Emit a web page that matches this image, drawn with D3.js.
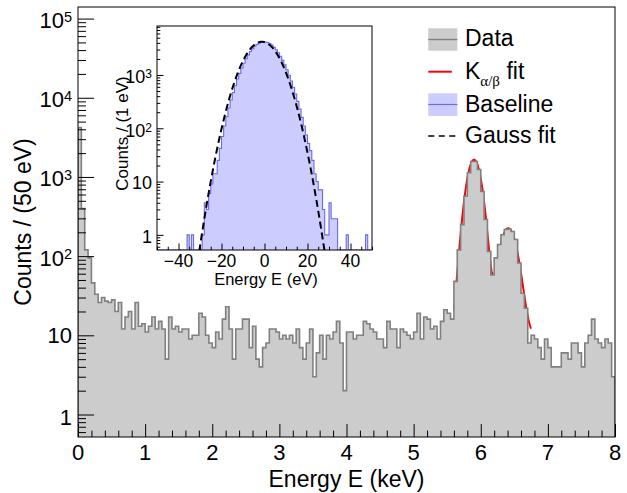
<!doctype html>
<html lang="en">
<head>
<meta charset="utf-8">
<title>Energy spectrum</title>
<script src="https://d3js.org/d3.v7.min.js"></script>
<style>
  body { margin: 0; background: #fff; }
  svg text { font-family: "Liberation Sans", Arial, Helvetica, sans-serif; fill: #000; }
</style>
</head>
<body>
<svg width="627" height="493"></svg>
<script>
// main spectrum: 50 eV bins from 0 to 8 keV
var binWidth = 0.05;
var dataCounts = [
  4200, 400, 120, 95, 46, 33, 26, 30, 27, 26,
  28, 20, 26, 12, 17, 20, 12, 26, 13, 14,
  11, 13, 17, 12, 15, 12, 5, 17, 12, 13,
  11, 12, 12, 9, 10, 10, 19, 17, 10, 8,
  7, 11, 9, 16, 23, 12, 5, 12, 12, 16,
  16, 7, 13, 5, 4, 7, 8, 12, 12, 11,
  9, 10, 9, 10, 8, 12, 7, 5, 8, 12,
  3, 6, 10, 5, 10, 9, 11, 15, 8, 2,
  11, 11, 9, 10, 10, 15, 14, 12, 11, 9,
  9, 7, 15, 12, 12, 7, 12, 11, 10, 9,
  11, 19, 9, 17, 16, 12, 13, 9, 15, 21,
  19, 16, 48, 120, 250, 570, 1130, 1570, 1570, 1240,
  655, 290, 115, 58, 95, 140, 186, 217, 220, 205,
  162, 82, 34, 22, 8, 10, 9, 7, 5, 9,
  7, 4, 4, 4, 6, 6, 5, 8, 8, 6,
  4, 8, 10, 16, 9, 8, 7, 9, 8, 3
];

// K alpha/beta fit: [amplitude, mean (keV), sigma (keV)] on a flat background
var kFitBackground = 10;
var kAlpha = [1640, 5.90, 0.095];
var kBeta = [215, 6.41, 0.112];
var kFitRange = [5.6, 6.75];

// baseline (inset): 1 eV bins from -50 to 50 eV
var baseBinStart = -50;
var baseBinWidth = 1;
var baseCounts = [
  0, 0, 0, 0, 0, 0, 0, 0, 0, 0,
  0, 0, 0, 0, 1, 0, 1, 0, 0, 0,
  0, 1, 4, 3, 6, 9, 14, 14, 25, 42,
  70, 110, 165, 240, 340, 470, 630, 840, 1070, 1350,
  1660, 2010, 2380, 2750, 3110, 3450, 3740, 3960, 4120, 4190,
  4170, 4080, 3880, 3630, 3320, 2970, 2610, 2240, 1880, 1550,
  1250, 990, 770, 590, 440, 320, 230, 160, 110, 75,
  52, 38, 25, 14, 10, 7, 7, 3, 1, 1,
  4, 2, 2, 2, 0, 0, 0, 0, 1, 0,
  0, 0, 0, 0, 0, 0, 0, 1, 0, 0
];
// gauss fit: [amplitude, mean (eV), sigma (eV)]
var gaussFit = [4200, -1.2, 6.85];

var xTicks = [0, 1, 2, 3, 4, 5, 6, 7, 8];
var yTicks = [1, 10, 100, 1e3, 1e4, 1e5];
var yTickLabels = [["1", ""], ["10", ""], ["10", "2"], ["10", "3"], ["10", "4"], ["10", "5"]];
var insetXTicks = [-40, -20, 0, 20, 40];
var insetXTickLabels = ["\u221240", "\u221220", "0", "20", "40"];
var insetYTicks = [1, 10, 100, 1000];
var insetYTickLabels = [["1", ""], ["10", ""], ["10", "2"], ["10", "3"]];

var legendLabels = ["Data", "K", "Baseline", "Gauss fit"];

var grayFill = '#cccccc', grayLine = '#808080';
var blueFill = '#ccccff', blueLine = '#6b6be6';

var svg = d3.select('svg');
svg.append('rect').attr('width', 627).attr('height', 493).attr('fill', '#fff');

// ---------- main frame ----------
var fx0 = 78, fx1 = 615, fy0 = 7, fy1 = 437;
var x = d3.scaleLinear().domain([0, 8]).range([fx0, fx1]);
var y = d3.scaleLog().domain([0.52, 1.4e5]).range([fy1, fy0]);

var defs = svg.append('defs');
defs.append('clipPath').attr('id', 'clipMain')
  .append('rect').attr('x', fx0).attr('y', fy0).attr('width', fx1 - fx0).attr('height', fy1 - fy0);

function stepPoints(counts, start, width, ymin) {
  var pts = [[start, ymin]];
  counts.forEach(function(c, i){
    var v = c > ymin ? c : ymin;
    pts.push([start + i * width, v]);
    pts.push([start + (i + 1) * width, v]);
  });
  pts.push([start + counts.length * width, ymin]);
  return pts;
}

function gaussSum(e, pars) {
  return pars.reduce(function(s, p){
    return s + p[0] * Math.exp(-Math.pow(e - p[1], 2) / (2 * p[2] * p[2]));
  }, 0);
}

var mainG = svg.append('g').attr('clip-path', 'url(#clipMain)');

// fit first: the histogram is painted over it, as in the original
var fitE = d3.range(kFitRange[0], kFitRange[1] + 1e-9, 0.005);
mainG.append('path')
  .attr('d', d3.line()
    .x(function(e){ return x(e); })
    .y(function(e){ return y(kFitBackground + gaussSum(e, [kAlpha, kBeta])); })(fitE))
  .attr('fill', 'none').attr('stroke', '#ff0000').attr('stroke-width', 2);

var mainPts = stepPoints(dataCounts, 0, binWidth, y.domain()[0]);
var histLine = function(sx, sy){
  return d3.line().x(function(p){ return sx(p[0]); }).y(function(p){ return sy(p[1]); });
};
mainG.append('path')
  .attr('d', histLine(x, y)(mainPts) + 'Z')
  .attr('fill', grayFill).attr('stroke', 'none');
mainG.append('path')
  .attr('d', histLine(x, y)(mainPts))
  .attr('fill', 'none').attr('stroke', grayLine).attr('stroke-width', 1.6);

// axis ticks (ROOT style: inward, no domain line)
function tickAxis(axis, transform, values, size) {
  svg.append('g').attr('transform', transform)
    .call(axis.tickValues(values).tickSize(-size).tickFormat(''))
    .call(function(g){ g.select('.domain').remove(); })
    .selectAll('line').attr('stroke', '#000');
}

var xMinor = d3.range(0, 8.0001, 0.2).filter(function(v){ return Math.abs(v - Math.round(v)) > 1e-6; });
tickAxis(d3.axisBottom(x), 'translate(0,' + fy1 + ')', xTicks, 12.9);
tickAxis(d3.axisBottom(x), 'translate(0,' + fy1 + ')', xMinor, 6.4);

var yAll = y.ticks();
var yMinor = yAll.filter(function(v){ return yTicks.indexOf(v) < 0; });
tickAxis(d3.axisLeft(y), 'translate(' + fx0 + ',0)', yTicks, 16.1);
tickAxis(d3.axisLeft(y), 'translate(' + fx0 + ',0)', yMinor, 8);

svg.append('rect').attr('x', fx0).attr('y', fy0).attr('width', fx1 - fx0).attr('height', fy1 - fy0)
  .attr('fill', 'none').attr('stroke', '#000').attr('stroke-width', 1);

// tick labels
svg.append('g').selectAll('text').data(xTicks).join('text')
  .attr('x', function(d){ return x(d); }).attr('y', 460)
  .attr('text-anchor', 'middle').style('font-size', '22px')
  .text(function(d){ return d; });

function logLabels(scale, values, labels, xr, fs, sfs, baseOff, oneOff, supDy) {
  var t = svg.append('g').selectAll('text').data(values).join('text')
    .attr('x', xr)
    .attr('y', function(d, i){
      var off = labels[i][1] ? baseOff : (labels[i][0] === '1' ? oneOff : baseOff - 1.5);
      return scale(d) + off;
    })
    .attr('text-anchor', 'end').style('font-size', fs + 'px');
  t.append('tspan').text(function(d, i){ return labels[i][0]; });
  t.append('tspan').attr('dy', function(d, i){ return labels[i][1] ? supDy : 0; })
    .style('font-size', sfs + 'px')
    .text(function(d, i){ return labels[i][1]; });
}
logLabels(y, yTicks, yTickLabels, 72, 22, 14.5, 9.5, 10.5, -6.5);

svg.append('text').attr('x', (fx0 + fx1) / 2).attr('y', 487)
  .attr('text-anchor', 'middle').style('font-size', '23px').text('Energy E (keV)');
svg.append('text').attr('transform', 'translate(30.5,' + (fy0 + fy1) / 2 + ') rotate(-90)')
  .attr('text-anchor', 'middle').style('font-size', '23px').text('Counts / (50 eV)');

// ---------- legend ----------
var legX = 428.3, legW = 29, legTx = 465;
var leg = svg.append('g');
leg.append('rect').attr('x', legX).attr('y', 28.3).attr('width', legW).attr('height', 22.4).attr('fill', grayFill);
leg.append('line').attr('x1', legX).attr('x2', legX + legW).attr('y1', 39.5).attr('y2', 39.5)
  .attr('stroke', grayLine).attr('stroke-width', 1.4);
leg.append('line').attr('x1', legX).attr('x2', legX + 23.5).attr('y1', 71.7).attr('y2', 71.7)
  .attr('stroke', '#ff0000').attr('stroke-width', 2);
leg.append('rect').attr('x', legX).attr('y', 93.3).attr('width', legW).attr('height', 22.7).attr('fill', blueFill);
leg.append('line').attr('x1', legX).attr('x2', legX + legW).attr('y1', 104.5).attr('y2', 104.5)
  .attr('stroke', blueLine).attr('stroke-width', 1.2);
leg.append('line').attr('x1', legX).attr('x2', legX + legW).attr('y1', 136).attr('y2', 136)
  .attr('stroke', '#000').attr('stroke-width', 1.6).attr('stroke-dasharray', '6,4.5');

leg.append('text').attr('x', legTx).attr('y', 46).style('font-size', '23px').text(legendLabels[0]);
var kt = leg.append('text').attr('x', legTx).attr('y', 79.3).style('font-size', '23px')
  .style('white-space', 'pre');
kt.append('tspan').text(legendLabels[1]);
kt.append('tspan').attr('dy', 6.5).style('font-size', '15px')
  .style('font-family', '"Liberation Serif", "DejaVu Serif", serif').text('\u03b1/\u03b2');
kt.append('tspan').attr('dy', -6.5).text(' fit');
leg.append('text').attr('x', legTx).attr('y', 111.7).style('font-size', '23px').text(legendLabels[2]);
leg.append('text').attr('x', legTx).attr('y', 142.7).style('font-size', '23px').text(legendLabels[3]);

// ---------- inset ----------
var ix0 = 157, ix1 = 372, iy0 = 26, iy1 = 250;
var xi = d3.scaleLinear().domain([-50, 50]).range([ix0, ix1]);
var yi = d3.scaleLog().domain([0.52, 8300]).range([iy1, iy0]);

defs.append('clipPath').attr('id', 'clipInset')
  .append('rect').attr('x', ix0).attr('y', iy0).attr('width', ix1 - ix0).attr('height', iy1 - iy0);

svg.append('rect').attr('x', ix0).attr('y', iy0).attr('width', ix1 - ix0).attr('height', iy1 - iy0)
  .attr('fill', '#fff');

var insetG = svg.append('g').attr('clip-path', 'url(#clipInset)');
var basePts = stepPoints(baseCounts, baseBinStart, baseBinWidth, yi.domain()[0]);
insetG.append('path')
  .attr('d', histLine(xi, yi)(basePts) + 'Z')
  .attr('fill', blueFill).attr('stroke', 'none');
insetG.append('path')
  .attr('d', histLine(xi, yi)(basePts))
  .attr('fill', 'none').attr('stroke', blueLine).attr('stroke-width', 1.1);

var gE = d3.range(-36, 34, 0.1);
insetG.append('path')
  .attr('d', d3.line()
    .x(function(e){ return xi(e); })
    .y(function(e){ return yi(Math.max(gaussSum(e, [gaussFit]), 0.3)); })(gE))
  .attr('fill', 'none').attr('stroke', '#000').attr('stroke-width', 2)
  .attr('stroke-dasharray', '7,4');

var ixMinor = d3.range(-50, 50.001, 5).filter(function(v){ return insetXTicks.indexOf(v) < 0; });
tickAxis(d3.axisBottom(xi), 'translate(0,' + iy1 + ')', insetXTicks, 6.5);
tickAxis(d3.axisBottom(xi), 'translate(0,' + iy1 + ')', ixMinor, 3.3);
var iyMinor = yi.ticks().filter(function(v){ return insetYTicks.indexOf(v) < 0; });
tickAxis(d3.axisLeft(yi), 'translate(' + ix0 + ',0)', insetYTicks, 6.5);
tickAxis(d3.axisLeft(yi), 'translate(' + ix0 + ',0)', iyMinor, 3.3);

svg.append('rect').attr('x', ix0).attr('y', iy0).attr('width', ix1 - ix0).attr('height', iy1 - iy0)
  .attr('fill', 'none').attr('stroke', '#000').attr('stroke-width', 1);

svg.append('g').selectAll('text').data(insetXTicks).join('text')
  .attr('x', function(d){ return xi(d); }).attr('y', 266.5)
  .attr('text-anchor', 'middle').style('font-size', '17.5px')
  .text(function(d, i){ return insetXTickLabels[i]; });
logLabels(yi, insetYTicks, insetYTickLabels, 152, 18, 12, 8.5, 8, -5);

svg.append('text').attr('x', 266).attr('y', 285)
  .attr('text-anchor', 'middle').style('font-size', '16.5px').text('Energy E (eV)');
svg.append('text').attr('transform', 'translate(128,133.5) rotate(-90)')
  .attr('text-anchor', 'middle').style('font-size', '17px').text('Counts / (1 eV)');
</script>
</body>
</html>
